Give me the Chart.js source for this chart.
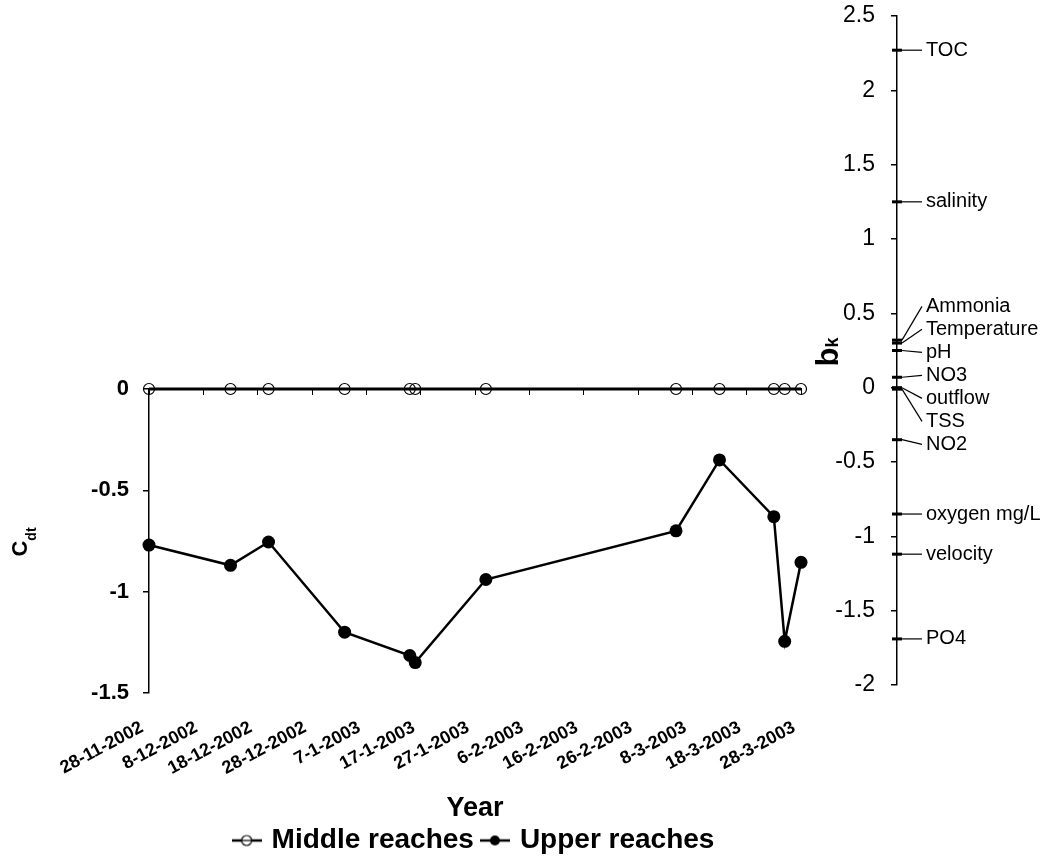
<!DOCTYPE html>
<html>
<head>
<meta charset="utf-8">
<script src="https://cdn.jsdelivr.net/npm/chart.js@4/dist/chart.umd.min.js"></script>
<style>
  html, body { margin: 0; padding: 0; background: #fff; overflow: hidden; }
  #wrap { position: relative; width: 1047px; height: 861px; overflow: hidden; }
  #wrap canvas { position: absolute; left: 0; top: 0; }
</style>
</head>
<body>
<div id="wrap">
  <canvas id="cdtCanvas" width="1047" height="870"></canvas>
  <canvas id="bkCanvas" width="1047" height="870"></canvas>
</div>
<script>
// sampling dates and scores
const sampleDates = ['28-11-2002', '13-12-2002', '20-12-2002', '3-1-2003', '15-1-2003', '16-1-2003',
  '29-1-2003', '5-3-2003', '13-3-2003', '23-3-2003', '25-3-2003', '28-3-2003'];
const middleReaches = [0, 0, 0, 0, 0, 0, 0, 0, 0, 0, 0, 0];
const upperReaches = [-0.77, -0.87, -0.755, -1.2, -1.315, -1.35, -0.94, -0.70, -0.35, -0.63, -1.245, -0.855];

// x axis tick labels, every 10 days from the first sample
const tickLabels = ['28-11-2002', '8-12-2002', '18-12-2002', '28-12-2002', '7-1-2003', '17-1-2003',
  '27-1-2003', '6-2-2003', '16-2-2003', '26-2-2003', '8-3-2003', '18-3-2003', '28-3-2003'];

// b_k loadings of the water quality variables
const variables = ['TOC', 'salinity', 'Ammonia', 'Temperature', 'pH', 'NO3', 'outflow', 'TSS',
  'NO2', 'oxygen mg/L', 'velocity', 'PO4'];
const bkValues = [2.27, 1.25, 0.32, 0.30, 0.25, 0.07, 0.0, -0.01, -0.35, -0.85, -1.12, -1.69];

const FONT = "'Liberation Sans', Arial, Helvetica, sans-serif";
Chart.defaults.font.family = FONT;
Chart.defaults.color = '#000';

// days since first sample
function dayOffset(s) {
  const p = s.split('-').map(Number);
  const p0 = sampleDates[0].split('-').map(Number);
  return (Date.UTC(p[2], p[1] - 1, p[0]) - Date.UTC(p0[2], p0[1] - 1, p0[0])) / 86400000;
}
const days = sampleDates.map(dayOffset);

const plainNum = v => String(Math.round(v * 10) / 10);

// rotated axis title with a subscript, e.g. C_dt
function drawSubTitle(ctx, main, sub, x, cy, mainSize, subSize, subShift) {
  ctx.save();
  ctx.fillStyle = '#000';
  ctx.textBaseline = 'alphabetic';
  ctx.font = 'bold ' + mainSize + 'px ' + FONT;
  const w1 = ctx.measureText(main).width;
  ctx.font = 'bold ' + subSize + 'px ' + FONT;
  const w2 = ctx.measureText(sub).width;
  ctx.translate(x, cy);
  ctx.rotate(-Math.PI / 2);
  const start = -(w1 + w2) / 2;
  ctx.font = 'bold ' + mainSize + 'px ' + FONT;
  ctx.fillText(main, start, 0);
  ctx.font = 'bold ' + subSize + 'px ' + FONT;
  ctx.fillText(sub, start + w1, subShift);
  ctx.restore();
}

function legendIcon(filled) {
  const c = document.createElement('canvas');
  c.width = 30; c.height = 14;
  const g = c.getContext('2d');
  g.strokeStyle = '#000';
  g.lineWidth = 2.5;
  g.beginPath(); g.moveTo(0, 7); g.lineTo(30, 7); g.stroke();
  g.beginPath(); g.arc(15, 7, 5, 0, Math.PI * 2);
  if (filled) { g.fillStyle = '#000'; g.fill(); }
  else { g.fillStyle = '#fff'; g.fill(); g.lineWidth = 1.2; g.stroke(); g.beginPath(); g.moveTo(10, 7); g.lineTo(20, 7); g.stroke(); }
  return c;
}

const cdtTitle = {
  id: 'cdtTitle',
  afterDraw(chart) {
    drawSubTitle(chart.ctx, 'C', 'dt', 27, 542, 22, 14, 9);
  }
};

new Chart(document.getElementById('cdtCanvas'), {
  type: 'line',
  data: {
    datasets: [
      {
        label: 'Middle reaches',
        data: days.map((d, i) => ({ x: d, y: middleReaches[i] })),
        borderColor: '#000',
        borderWidth: 3,
        pointStyle: 'circle',
        pointRadius: 5.5,
        pointBorderWidth: 1.2,
        pointBorderColor: '#000',
        pointBackgroundColor: 'rgba(0,0,0,0)',
        tension: 0,
        clip: false
      },
      {
        label: 'Upper reaches',
        data: days.map((d, i) => ({ x: d, y: upperReaches[i] })),
        borderColor: '#000',
        borderWidth: 2.5,
        pointStyle: 'circle',
        pointRadius: 6.5,
        pointBorderWidth: 0,
        pointBackgroundColor: '#000',
        tension: 0,
        clip: false
      }
    ]
  },
  options: {
    responsive: false,
    animation: false,
    events: [],
    layout: { padding: { left: 0, top: 389, right: 246, bottom: 5.5 } },
    scales: {
      x: {
        type: 'linear',
        position: 'bottom',
        min: 0,
        max: 120,
        afterFit: s => { s.height = 123.5; },
        border: { display: false },
        grid: { display: false },
        ticks: {
          stepSize: 10,
          autoSkip: false,
          minRotation: 28,
          maxRotation: 28,
          padding: 16,
          labelOffset: -7,
          font: { size: 18, weight: 'bold' },
          callback: (v, i) => tickLabels[i]
        },
        title: {
          display: true,
          text: 'Year',
          font: { size: 27, weight: 'bold', lineHeight: 0.8 },
          padding: { top: 0, bottom: -3 }
        }
      },
      x2: {
        type: 'linear',
        axis: 'x',
        position: { y: 0 },
        min: 0,
        max: 120,
        ticks: { display: false, stepSize: 10 },
        grid: { drawOnChartArea: false, tickLength: 5, color: '#000', lineWidth: 1 },
        border: { color: '#000', width: 2 }
      },
      y: {
        min: -1.5,
        max: 0,
        position: 'left',
        afterFit: s => { s.width = 149; },
        border: { color: '#000', width: 1.5 },
        grid: { drawOnChartArea: false, tickLength: 6, color: '#000', lineWidth: 1.5 },
        ticks: { stepSize: 0.5, padding: 14, font: { size: 22, weight: 'bold' }, callback: plainNum }
      }
    },
    plugins: {
      legend: {
        position: 'bottom',
        fullSize: false,
        labels: {
          usePointStyle: true,
          pointStyleWidth: 22,
          padding: 10,
          font: { size: 28, weight: 'bold' },
          generateLabels: chart => chart.data.datasets.map((ds, i) => ({
            text: ds.label,
            pointStyle: legendIcon(i === 1),
            datasetIndex: i,
            fillStyle: '#000',
            strokeStyle: '#000',
            lineWidth: 0,
            hidden: false,
            fontColor: '#000'
          }))
        }
      },
      tooltip: { enabled: false }
    }
  },
  plugins: [cdtTitle]
});

// spread labels so they are at least `gap` px apart, staying close to their marks
function spreadLabels(ys, gap) {
  const blocks = [];
  ys.forEach((y, i) => {
    blocks.push({ sum: y - gap * i, n: 1, start: i });
    while (blocks.length > 1) {
      const b = blocks[blocks.length - 1], a = blocks[blocks.length - 2];
      if (a.sum / a.n > b.sum / b.n) { a.sum += b.sum; a.n += b.n; blocks.pop(); }
      else break;
    }
  });
  const out = [];
  blocks.forEach(b => { for (let k = 0; k < b.n; k++) out.push(b.sum / b.n + gap * (b.start + k)); });
  return out;
}

const bkLabels = {
  id: 'bkLabels',
  afterDatasetsDraw(chart) {
    const ctx = chart.ctx;
    const pts = chart.getDatasetMeta(0).data;
    const order = pts.map((p, i) => i).sort((a, b) => pts[a].y - pts[b].y);
    const ly = spreadLabels(order.map(i => pts[i].y), 23);
    ctx.save();
    ctx.strokeStyle = '#000';
    ctx.lineWidth = 1.2;
    ctx.fillStyle = '#000';
    ctx.font = '20px ' + FONT;
    ctx.textBaseline = 'middle';
    order.forEach((i, k) => {
      const p = pts[i];
      ctx.beginPath();
      ctx.moveTo(p.x + 5, p.y);
      ctx.lineTo(p.x + 25, ly[k]);
      ctx.stroke();
      ctx.fillText(variables[i], p.x + 29, ly[k]);
    });
    ctx.restore();
    drawSubTitle(ctx, 'b', 'k', 838, 352, 31, 18, 0);
  }
};

new Chart(document.getElementById('bkCanvas'), {
  type: 'scatter',
  data: {
    datasets: [{
      label: 'b_k',
      data: bkValues.map(v => ({ x: 0, y: v })),
      pointStyle: 'line',
      pointRadius: 5,
      pointBorderWidth: 3,
      pointBorderColor: '#000',
      clip: false
    }]
  },
  options: {
    responsive: false,
    animation: false,
    events: [],
    layout: { padding: { left: 0, top: 16, right: 0, bottom: 185 } },
    scales: {
      x: { type: 'linear', min: 0, max: 1, display: false },
      y: {
        min: -2,
        max: 2.5,
        position: 'left',
        afterFit: s => { s.width = 897; s.paddingTop = 0; s.paddingBottom = 0; },
        border: { color: '#000', width: 1.5 },
        grid: { drawOnChartArea: false, tickLength: 6, color: '#000', lineWidth: 1.5 },
        ticks: { stepSize: 0.5, padding: 16, font: { size: 23 }, callback: plainNum }
      }
    },
    plugins: { legend: { display: false }, tooltip: { enabled: false } }
  },
  plugins: [bkLabels]
});
</script>
</body>
</html>
